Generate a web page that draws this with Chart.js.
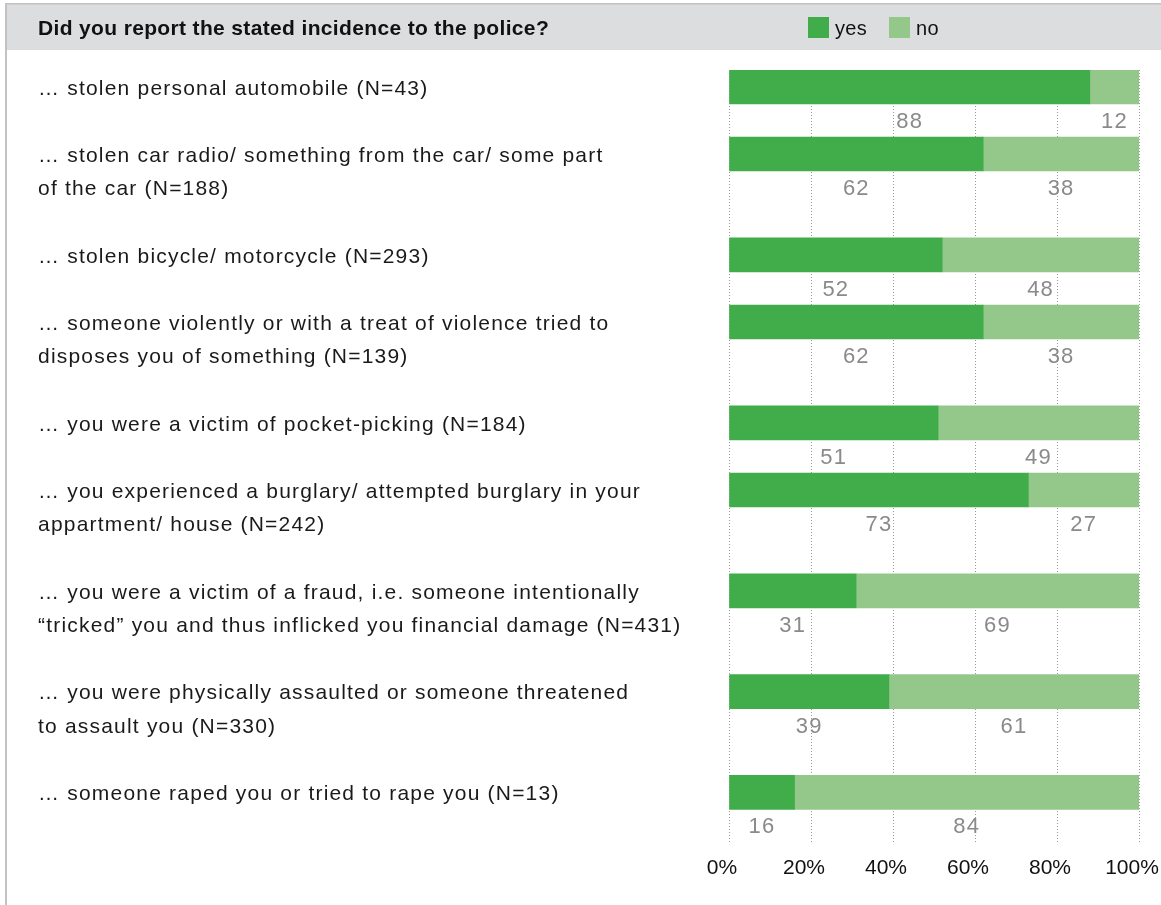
<!DOCTYPE html>
<html>
<head>
<meta charset="utf-8">
<script src="https://cdn.jsdelivr.net/npm/chart.js@4.4.0/dist/chart.umd.min.js"></script>
<style>
  html, body { margin: 0; padding: 0; background: #fff; }
  #wrap { width: 1161px; height: 905px; }
</style>
</head>
<body>
<div id="wrap"><canvas id="grafico"></canvas></div>
<script>
const titulo = "Did you report the stated incidence to the police?"
const serieLabels = ["yes", "no"]
// each category as its lines of text
const categorias = [
  ["… stolen personal automobile (N=43)"],
  ["… stolen car radio/ something from the car/ some part", "of the car (N=188)"],
  ["… stolen bicycle/ motorcycle (N=293)"],
  ["… someone violently or with a treat of violence tried to", "disposes you of something (N=139)"],
  ["… you were a victim of pocket-picking (N=184)"],
  ["… you experienced a burglary/ attempted burglary in your", "appartment/ house (N=242)"],
  ["… you were a victim of a fraud, i.e. someone intentionally", "“tricked” you and thus inflicked you financial damage (N=431)"],
  ["… you were physically assaulted or someone threatened", "to assault you (N=330)"],
  ["… someone raped you or tried to rape you (N=13)"]
]
const si = [88, 62, 52, 62, 51, 73, 31, 39, 16]
const no = [12, 38, 48, 38, 49, 27, 69, 61, 84]
const ticksX = [0, 20, 40, 60, 80, 100]

const verde = "#41ad4a"
const verdeClaro = "#94c78a"
const fuente = "'Liberation Sans', Arial, sans-serif"

// row slots: a row takes as many slots as its text lines, plus one gap
const filas = []
let slot = 0
categorias.forEach(c => { filas.push(slot); slot += c.length + 1 })

const dibujoPlugin = {
  id: "dibujo",
  beforeDraw(chart) {
    const { ctx, width, height } = chart
    ctx.save()
    // header band
    ctx.fillStyle = "#dcdddf"
    ctx.fillRect(5, 4, width - 5, 46)
    ctx.fillStyle = "#c2c2c2"
    ctx.fillRect(5, 3, width - 5, 1.5)
    ctx.fillRect(5, 3, 2, height)

    ctx.textBaseline = "middle"
    ctx.fillStyle = "#111"
    ctx.letterSpacing = "0.35px"
    ctx.font = "bold 21px " + fuente
    ctx.fillText(titulo, 38, 29)

    // legend
    let lx = 808
    ctx.letterSpacing = "0.3px"
    chart.data.datasets.forEach(ds => {
      ctx.fillStyle = ds.backgroundColor
      ctx.fillRect(lx, 17, 21, 21)
      ctx.fillStyle = "#111"
      ctx.font = "20px " + fuente
      ctx.fillText(ds.label, lx + 27, 29)
      lx += 81
    })

    // category labels, first line on the bar
    // the source font is wider, the spacing helps to match it
    const y = chart.scales.y
    ctx.letterSpacing = "1.2px"
    ctx.fillStyle = "#1a1a1a"
    ctx.font = "21px " + fuente
    categorias.forEach((lineas, i) => {
      const y0 = y.getPixelForValue(filas[i]) + 2
      lineas.forEach((t, j) => ctx.fillText(t, 38, y0 + j * 33.5))
    })
    ctx.restore()
  },
  afterDatasetsDraw(chart) {
    const { ctx } = chart
    ctx.save()
    ctx.letterSpacing = "1.2px"
    ctx.fillStyle = "#8a8a8a"
    ctx.font = "22px " + fuente
    ctx.textAlign = "center"
    ctx.textBaseline = "middle"
    chart.data.datasets.forEach((ds, d) => {
      chart.getDatasetMeta(d).data.forEach((bar, i) => {
        const cx = (bar.base + bar.x) / 2
        ctx.fillText(ds.data[i].x, cx, bar.y + 35)
      })
    })
    ctx.restore()
  }
}

const data = {
  type: "bar",
  data: {
    datasets: [
      { label: serieLabels[0], data: si.map((v, i) => ({ x: v, y: filas[i] })), backgroundColor: verde },
      { label: serieLabels[1], data: no.map((v, i) => ({ x: v, y: filas[i] })), backgroundColor: verdeClaro }
    ]
  },
  options: {
    indexAxis: "y",
    responsive: false,
    animation: false,
    layout: { padding: { left: 729, right: 22, top: 70, bottom: 11 } },
    datasets: { bar: { barThickness: 34, borderWidth: 0 } },
    plugins: { legend: { display: false }, tooltip: { enabled: false } },
    scales: {
      x: {
        type: "linear",
        stacked: true,
        min: 0,
        max: 100,
        afterBuildTicks: (s) => { s.ticks = ticksX.map(v => ({ value: v })) },
        // keep the plot area fixed, the labels may hang over the padding
        afterFit: (s) => { s.paddingLeft = 0; s.paddingRight = 0 },
        ticks: {
          callback: (v) => v + "%",
          color: "#111",
          padding: 13,
          labelOffset: -7,
          maxRotation: 0,
          font: { size: 21, family: fuente }
        },
        grid: { color: "#9a9a9a", lineWidth: 1, drawTicks: false },
        border: { display: false, dash: [1, 2] }
      },
      y: {
        type: "linear",
        stacked: true,
        reverse: true,
        offset: false,
        min: -0.5,
        max: slot - 0.5,
        display: false
      }
    }
  },
  plugins: [dibujoPlugin]
}

const canva = document.getElementById("grafico")
canva.width = 1161
canva.height = 905
window.miGrafico = new Chart(canva.getContext("2d"), data)
</script>
</body>
</html>
